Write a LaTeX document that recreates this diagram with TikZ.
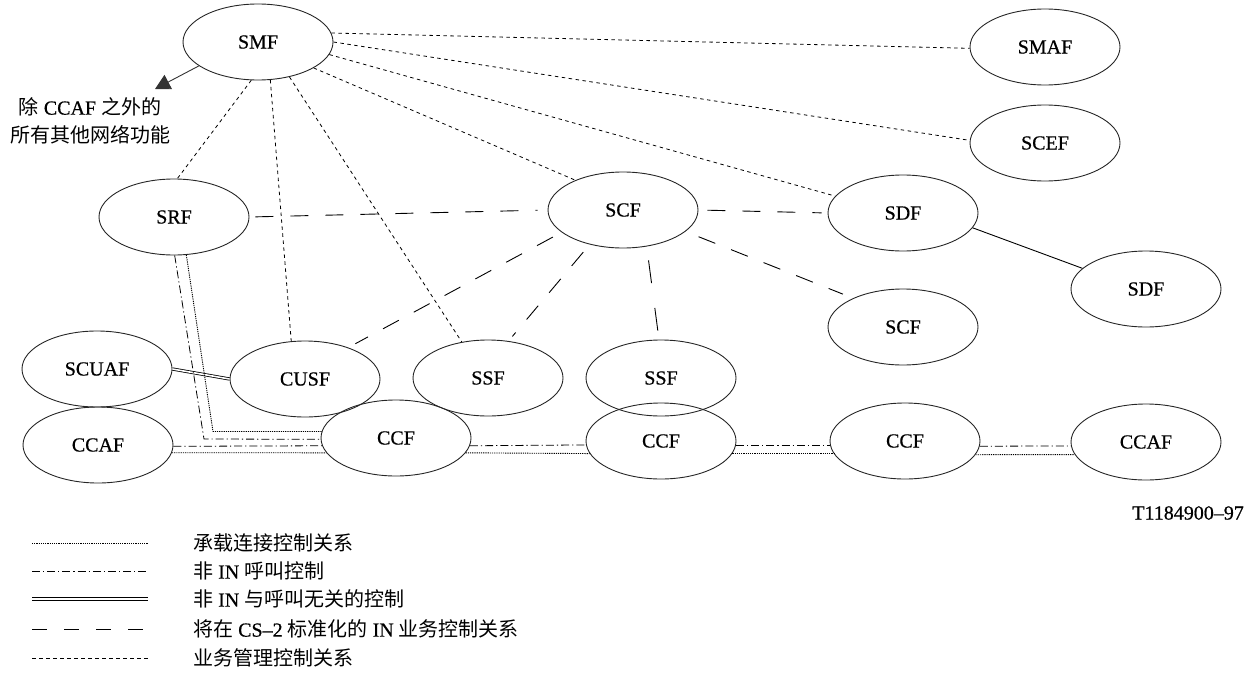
\documentclass[tikz,border=0pt]{standalone}
\usepackage{fontspec}
\setmainfont{Liberation Serif}[FakeBold=0.6]
\newfontfamily\cjk{Noto Sans CJK SC}
\newcommand{\zhs}[1]{{\cjk #1}}
\usetikzlibrary{shapes.geometric,arrows.meta}

\begin{document}
\begin{tikzpicture}[x=1pt,y=-1pt,
  fn/.style={ellipse, draw=black!85, line width=0.9pt, minimum width=150pt,
    minimum height=76pt, inner sep=0pt, font=\fontsize{20}{22}\selectfont},
  bearer/.style={line width=0.9pt, dash pattern=on 1.2pt off 1pt},
  noninctl/.style={line width=0.8pt, dash pattern=on 8pt off 3pt on 1.2pt off 3pt},
  callunrel/.style={double, double distance=1.6pt, line width=0.8pt},
  inctl/.style={line width=0.9pt, dash pattern=on 18pt off 17pt},
  mgmt/.style={line width=0.8pt, dash pattern=on 3.5pt off 3.5pt},
  solidrel/.style={line width=0.9pt},
  lbl/.style={font=\fontsize{20}{28}\selectfont, inner sep=0pt},
]
\useasboundingbox (0,0) rectangle (1260,677);

% functional entities
\node[fn] (SMF)   at (258,42)   {SMF};
\node[fn] (SMAF)  at (1045,47)  {SMAF};
\node[fn] (SCEF)  at (1045,143) {SCEF};
\node[fn] (SRF)   at (174,217)  {SRF};
\node[fn] (SCF)   at (623,210)  {SCF};
\node[fn] (SDF1)  at (903,213)  {SDF};
\node[fn] (SDF2)  at (1146,289) {SDF};
\node[fn] (SCF2)  at (903,327)  {SCF};
\node[fn] (SCUAF) at (97,369)   {SCUAF};
\node[fn] (CUSF)  at (305,379)  {CUSF};
\node[fn] (SSF1)  at (488,378)  {SSF};
\node[fn] (SSF2)  at (661,378)  {SSF};
\node[fn] (CCAF1) at (98,445)   {CCAF};
\node[fn] (CCF1)  at (396,438)  {CCF};
\node[fn] (CCF2)  at (661,441)  {CCF};
\node[fn] (CCF3)  at (905,441)  {CCF};
\node[fn] (CCAF2) at (1146,442) {CCAF};

% pointer to the remaining network functions
\node[lbl, align=center] (others) at (90,121)
  {\zhs{除} CCAF \zhs{之外的}\\\zhs{所有其他网络功能}};
\coordinate (ptr) at (155,89);
\draw[-{Triangle[length=15pt,width=16pt]}, line width=0.9pt, black!80]
  (SMF.202) -- (ptr);

% service management control relations
\draw[mgmt] (SMF.7)    -- (SMAF.181);
\draw[mgmt] (SMF.0)    -- (SCEF.178);
\draw[mgmt] (SMF.-10)  -- (SDF1.166);
\draw[mgmt] (SMF.-25)  -- (SCF.148);
\draw[mgmt] (SMF.-48)  -- (SSF1.126);
\draw[mgmt] (SMF.-72)  -- (CUSF.110);
\draw[mgmt] (SMF.-100) -- (SRF.85);

% IN service control relations (CS-2)
\draw[inctl, shorten <=6pt, shorten >=10pt] (SRF.east) -- (SCF.west);
\draw[inctl, shorten <=9pt, shorten >=6pt] (SCF.east) -- (SDF1.west);
\draw[inctl, shorten <=14pt, shorten >=11pt] (SCF.-19) -- (SCF2.150);
\draw[inctl, shorten <=10pt, shorten >=8pt] (SCF.200) -- (CUSF.36);
\draw[inctl, shorten <=10pt, shorten >=6pt] (SCF.226) -- (SSF1.61);
\draw[inctl, dash pattern=on 23pt off 25pt, shorten <=14pt, shorten >=9pt]
  (SCF.-57) -- (SSF2.93);

% data function link
\draw[solidrel] (SDF1.-12) -- (SDF2.162);

% non-IN call-unrelated control
\draw[callunrel] (SCUAF.east) -- (CUSF.west);

% SRF to CCF: call control and bearer connection control
\coordinate (bendA) at (204,439);
\coordinate (bendB) at (213,431.5);
\draw[noninctl] (SRF.-89) -- (bendA) -- (CCF1.181);
\draw[bearer]   (SRF.-72) -- (bendB) -- (CCF1.175);

% call chain along the bottom row
\draw[noninctl] (CCAF1.-1) -- (CCF1.186);
\draw[bearer]   (CCAF1.-6) -- (CCF1.192);
\draw[noninctl] (CCF1.-6)  -- (CCF2.183);
\draw[bearer]   (CCF1.-12) -- (CCF2.190);
\draw[noninctl] (CCF2.-3)  -- (CCF3.183);
\draw[bearer]   (CCF2.-10) -- (CCF3.190);
\draw[noninctl] (CCF3.-4)  -- (CCAF2.183);
\draw[bearer]   (CCF3.-11) -- (CCAF2.190);

% figure number
\node[lbl, anchor=east] (fignum) at (1244,513) {T1184900–97};

% legend
\coordinate (l1a) at (32,543); \coordinate (l1b) at (148,543);
\coordinate (l2a) at (32,571); \coordinate (l2b) at (148,571);
\coordinate (l3a) at (32,599); \coordinate (l3b) at (148,599);
\coordinate (l4a) at (32,629); \coordinate (l4b) at (148,629);
\coordinate (l5a) at (32,658); \coordinate (l5b) at (148,658);
\draw[bearer]    (l1a) -- (l1b);
\draw[noninctl]  (l2a) -- (l2b);
\draw[callunrel, line width=1pt, double distance=1.8pt] (l3a) -- (l3b);
\draw[inctl, dash pattern=on 15pt off 17pt] (l4a) -- (l4b);
\draw[mgmt]      (l5a) -- (l5b);
\node[lbl, anchor=west] (leg1) at (193,543) {\zhs{承载连接控制关系}};
\node[lbl, anchor=west] (leg2) at (193,571) {\zhs{非} IN \zhs{呼叫控制}};
\node[lbl, anchor=west] (leg3) at (193,599) {\zhs{非} IN \zhs{与呼叫无关的控制}};
\node[lbl, anchor=west] (leg4) at (193,629) {\zhs{将在} CS–2 \zhs{标准化的} IN \zhs{业务控制关系}};
\node[lbl, anchor=west] (leg5) at (193,658) {\zhs{业务管理控制关系}};
\end{tikzpicture}
\end{document}
